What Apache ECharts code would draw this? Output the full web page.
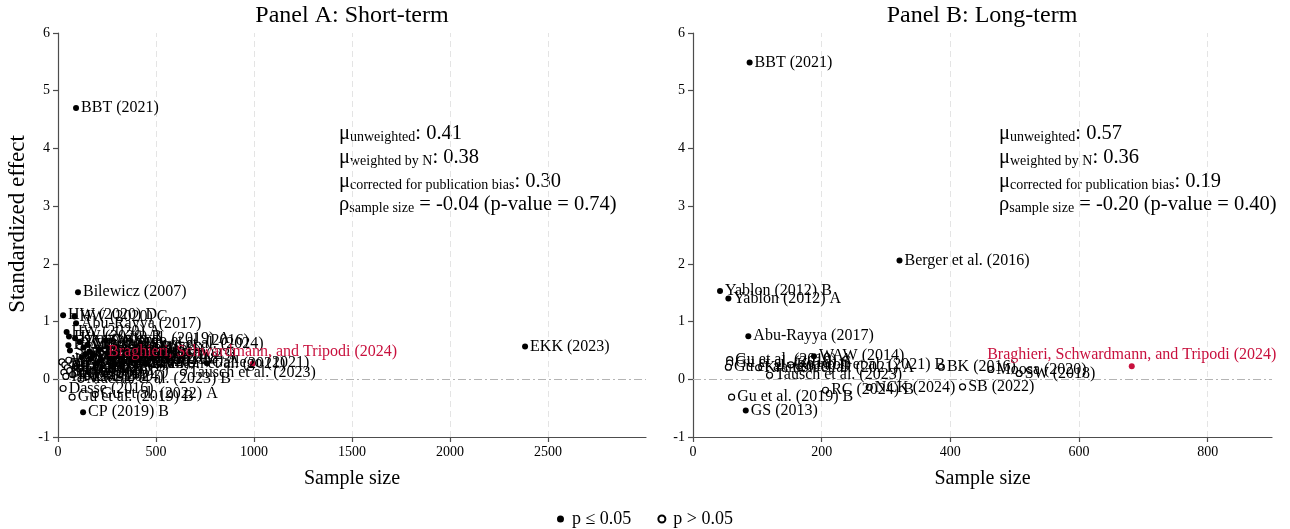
<!DOCTYPE html>
<html>
<head>
<meta charset="utf-8">
<script src="https://cdn.jsdelivr.net/npm/echarts@6/dist/echarts.min.js"></script>
<style>html,body{margin:0;padding:0;background:#fff}#c{width:1290px;height:529px}</style>
</head>
<body>
<div id="c"></div>
<script>
// ---------- DATA ----------
const titles = ['Panel A: Short-term', 'Panel B: Long-term'];
const yTitle = 'Standardized effect';
const xTitle = 'Sample size';
const xTicksA = [0, 500, 1000, 1500, 2000, 2500];
const xTicksB = [0, 200, 400, 600, 800];
const yTicks = [-1, 0, 1, 2, 3, 4, 5, 6];

// Panel A: label, sample size, standardized effect, significant (1 = p<=0.05)
const namesA = ['BBT (2021)','Bilewicz (2007)','HW (2020) D','HW (2020) C','Abu-Rayya (2017)','HW (2020) A','HW (2020) B','Kranton et al. (2019) A','Gallardo et al. (2016)','Lowe et al. (2024)','HW (2020) E','Scacco (2018)','AR (2019) B','BKL (2022)','Dovidio (2004)','CP (2019) A','EKK (2022)','FS (2018)','GH (2020)','JW (2015)','KMS (2021) A','LP (2017)','MB (2023)','NS (2019)','OT (2020)','PR (2018) A','QZ (2022)','RS (2016)','SS (2014)','TV (2020)','UW (2021)','Vezzali (2012)','WS (2023)','XY (2018)','Kranton et al. (2021)','Gallego (2021)','AB (2015)','BC (2017)','CD (2019)','DE (2020)','EF (2018)','FG (2016)','GH (2022) B','HI (2021)','IJ (2023)','JK (2019)','KL (2020)','Dasse (2016)','Gu et al. (2019) B','Gu et al. (2022) A','Macrae et al. (2023) B','Tausch et al. (2023)','LM (2024)','MN (2018)','NO (2017)','CP (2019) B','EKK (2023)'];
const nA =   [92,102,26,84,92,44,56,87,245,420,53,61,130,160,210,180,250,300,350,120,270,400,150,220,330,480,200,140,260,110,380,170,520,290,450,760,20,35,48,30,60,75,90,40,110,130,55,26,72,190,117,640,150,95,180,128,2383];
const effA = [4.70,1.51,1.11,1.09,0.97,0.82,0.74,0.71,0.67,0.62,0.59,0.50,0.55,0.48,0.52,0.42,0.45,0.40,0.47,0.38,0.35,0.39,0.60,0.32,0.30,0.36,0.28,0.44,0.55,0.65,0.33,0.36,0.42,0.26,0.27,0.28,0.30,0.25,0.20,0.12,0.15,0.08,0.22,0.05,0.18,0.10,0.33,-0.16,-0.31,-0.26,0.00,0.12,0.05,0.28,0.14,-0.57,0.57];
const sigA = [1,1,1,1,1,1,1,1,1,1,1,1,1,1,1,1,1,1,1,1,1,1,1,1,1,1,1,1,1,1,1,1,1,1,1,1,0,0,0,0,0,0,0,0,0,0,0,0,0,0,0,0,0,0,0,1,1];

// Panel B
const namesB = ['BBT (2021)','Berger et al. (2016)','Yablon (2012) B','Yablon (2012) A','Abu-Rayya (2017)','WAW (2014)','Gu et al. (2019) A','Gu et al. (2019) C','Gu et al. (2019) D','Kranton et al. (2021) A','Kranton et al. (2021) B','Tausch et al. (2023)','BK (2016)','Moosa (2020)','SW (2018)','SB (2022)','RC (2024) B','NCK (2024)','Gu et al. (2019) B','GS (2013)'];
const nB =   [88,321,42,55,86,188,57,57,55,102,152,119,386,463,507,419,206,274,60,82];
const effB = [5.49,2.06,1.53,1.40,0.745,0.40,0.34,0.28,0.21,0.20,0.25,0.07,0.21,0.17,0.10,-0.13,-0.19,-0.14,-0.31,-0.54];
const sigB = [1,1,1,1,1,1,0,0,0,0,0,0,0,0,0,0,0,0,0,1];

// Highlighted study
const hiName = 'Braghieri, Schwardmann, and Tripodi (2024)';
const hiA = [993, 0.27];
const hiB = [682, 0.225];

// Summary statistics: unweighted, weighted by N, corrected, rho, p-value
const statsA = ['0.41', '0.38', '0.30', '-0.04', '0.74'];
const statsB = ['0.57', '0.36', '0.19', '-0.20', '0.40'];

const legendNames = ['p \u2264 0.05', 'p > 0.05'];

// ---------- CHART ----------
const FONT = 'Liberation Serif';
const RED = '#c8103d';
const AX = '#4d4d4d';
const chart = echarts.init(document.getElementById('c'));

function pts(names, ns, effs, sigs, s) {
  const out = [];
  for (let i = 0; i < names.length; i++) if (sigs[i] === s) out.push({ name: names[i], value: [ns[i], effs[i]] });
  return out;
}
const lbl = { show: true, position: 'right', distance: 2, formatter: '{b}', color: '#000', fontFamily: FONT, fontSize: 16 };

function gridLines(ticks) {
  const d = ticks.filter(v => v !== 0).map(v => ({ xAxis: v, lineStyle: { color: '#e4e4e4', type: [6, 4], width: 1 } }));
  d.push({ yAxis: 0, lineStyle: { color: '#b4b4b4', type: [8, 3, 2, 3], width: 1 } });
  return { silent: true, symbol: 'none', z: 1, label: { show: false }, data: d };
}

function xAxis(idx, max, ticks) {
  return {
    type: 'value', gridIndex: idx, min: 0, max: max,
    name: xTitle, nameLocation: 'middle', nameGap: 32,
    nameTextStyle: { fontFamily: FONT, fontSize: 20, color: '#000' },
    axisLine: { onZero: false, lineStyle: { color: AX, width: 1.2 } },
    axisTick: { show: true, length: 5, customValues: ticks, lineStyle: { color: AX, width: 1.2 } },
    axisLabel: { customValues: ticks, formatter: v => String(v), color: '#000', fontFamily: FONT, fontSize: 14, margin: 8 },
    splitLine: { show: false }
  };
}
function yAxis(idx) {
  return {
    type: 'value', gridIndex: idx, min: yTicks[0], max: yTicks[yTicks.length - 1], interval: 1,
    axisLine: { show: true, lineStyle: { color: AX, width: 1.2 } },
    axisTick: { show: true, length: 5, lineStyle: { color: AX, width: 1.2 } },
    axisLabel: { formatter: v => String(v), color: '#000', fontFamily: FONT, fontSize: 14, margin: 8 },
    splitLine: { show: false }
  };
}

function series(idx, names, ns, effs, sigs, hi, ticks) {
  return [
    { name: legendNames[1], type: 'scatter', xAxisIndex: idx, yAxisIndex: idx, symbol: 'circle', symbolSize: 6,
      itemStyle: { color: '#fff', borderColor: '#000', borderWidth: 1.2, opacity: 1 },
      label: lbl, data: pts(names, ns, effs, sigs, 0), markLine: gridLines(ticks), emphasis: { disabled: true } },
    { name: legendNames[0], type: 'scatter', xAxisIndex: idx, yAxisIndex: idx, symbol: 'circle', symbolSize: 6,
      itemStyle: { color: '#000', opacity: 1 },
      label: lbl, data: pts(names, ns, effs, sigs, 1), emphasis: { disabled: true } },
    { name: 'highlight', type: 'scatter', xAxisIndex: idx, yAxisIndex: idx, symbol: 'circle', symbolSize: 6,
      itemStyle: { color: RED, opacity: 1 },
      label: { show: true, position: 'top', distance: 1, formatter: '{b}', color: RED, fontFamily: FONT, fontSize: 16 },
      data: [{ name: hiName, value: hi }], emphasis: { disabled: true } }
  ];
}

function statText(x, stats) {
  const rich = {
    m: { fontFamily: FONT, fontSize: 20.5, lineHeight: 26, verticalAlign: 'bottom', fill: '#000', color: '#000' },
    s: { fontFamily: FONT, fontSize: 14, lineHeight: 19, verticalAlign: 'bottom', fill: '#000', color: '#000' }
  };
  const lines = [
    '{m|\u03bc}{s|unweighted}{m|: ' + stats[0] + '}',
    '{m|\u03bc}{s|weighted by N}{m|: ' + stats[1] + '}',
    '{m|\u03bc}{s|corrected for publication bias}{m|: ' + stats[2] + '}',
    '{m|\u03c1}{s|sample size}{m| = ' + stats[3] + ' (p-value = ' + stats[4] + ')}'
  ];
  const base = [149, 173, 197, 220];
  return lines.map((t, i) => ({
    type: 'text', left: x, top: base[i] - 26, silent: true,
    style: { text: t, rich: rich, fill: '#000' }
  }));
}

const option = {
  animation: false,
  backgroundColor: '#fff',
  grid: [
    { left: 58, top: 33, width: 588, height: 404 },
    { left: 693, top: 33, width: 579, height: 404 }
  ],
  xAxis: [xAxis(0, 3000, xTicksA), xAxis(1, 900, xTicksB)],
  yAxis: [yAxis(0), yAxis(1)],
  legend: {
    data: legendNames, left: 'center', top: 505, icon: 'circle', itemWidth: 7, itemHeight: 7, itemGap: 26,
    textStyle: { fontFamily: FONT, fontSize: 18, color: '#000', padding: [0, 0, 0, 3] }, selectedMode: false
  },
  graphic: [
    { type: 'text', x: 352, y: 16, silent: true, style: { text: titles[0], fontFamily: FONT, fontSize: 24, fill: '#000', textAlign: 'center', textVerticalAlign: 'middle' } },
    { type: 'text', x: 982, y: 16, silent: true, style: { text: titles[1], fontFamily: FONT, fontSize: 24, fill: '#000', textAlign: 'center', textVerticalAlign: 'middle' } },
    { type: 'text', x: 18, y: 224, rotation: Math.PI / 2, silent: true, style: { text: yTitle, fontFamily: FONT, fontSize: 23, fill: '#000', textAlign: 'center', textVerticalAlign: 'middle' } }
  ].concat(statText(339, statsA)).concat(statText(999, statsB)),
  series: series(0, namesA, nA, effA, sigA, hiA, xTicksA).concat(series(1, namesB, nB, effB, sigB, hiB, xTicksB))
};
chart.setOption(option);
</script>
</body>
</html>
